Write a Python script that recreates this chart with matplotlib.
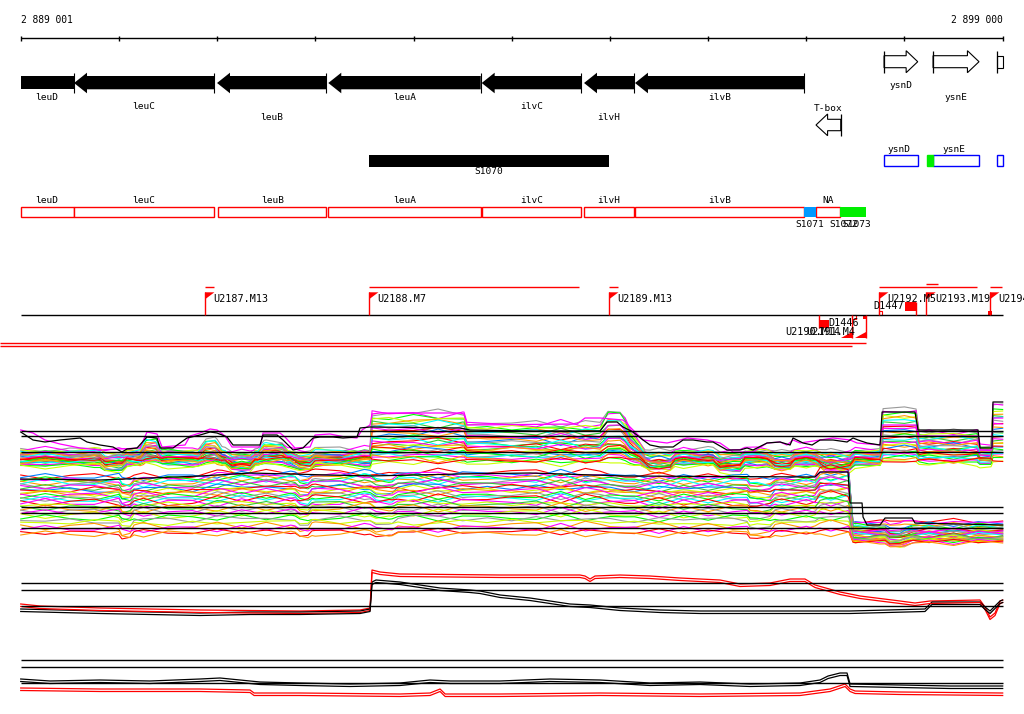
import numpy as np
import matplotlib.pyplot as plt
from matplotlib.patches import Polygon, Rectangle

plt.rcParams['font.family'] = ['DejaVu Sans Mono']

START = 2889001
END = 2899000

# ---- annotation data (positions = bp offset from START) ----
gene_names = ['leuD', 'leuC', 'leuB', 'leuA', 'ilvC', 'ilvH', 'ilvB']
gene_start = [0, 543, 1999, 3132, 4694, 5736, 6255]
gene_end = [540, 1971, 3112, 4684, 5705, 6245, 7976]

open_names = ['T-box', 'ysnD', 'ysnE', '']
open_start = [8098, 8791, 9290, 9939]
open_end = [8350, 9134, 9758, 9999]
open_strand = [-1, 1, 1, 1]

box_names = ['leuD', 'leuC', 'leuB', 'leuA', 'ilvC', 'ilvH', 'ilvB', 'NA']
box_start = [0, 543, 2012, 3132, 4694, 5736, 6255, 8098]
box_end = [540, 1971, 3112, 4684, 5705, 6245, 7976, 8343]

seg_names = ['S1071', 'S1072', 'S1073']
seg_start = [7976, 8343, 8420]
seg_end = [8098, 8420, 8605]
seg_colors = ['#0099ff', '#00ee00', '#00ee00']

blue_names = ['ysnD', 'ysnE', '']
blue_start = [8791, 9290, 9939]
blue_end = [9134, 9758, 9999]
green_seg = (9226, 9290)

s1070 = (3547, 5991)

flag_names = ['U2187.M13', 'U2188.M7', 'U2189.M13', 'U2192.M5', 'U2193.M19', 'U2194.M1']
flag_pos = [1877, 3547, 5991, 8740, 9222, 9870]
flag_line_end = [1965, 5688, 6086, 9734, 9338, 9996]

down_names = ['U2190.M14', 'U2191.M4']
down_start = [8350, 8498]
down_end = [8462, 8605]

# ---- shared small wiggles of the probe signal (px), every 250 bp ----
jit_a = [0, 2, -1, 1, 3, -2, 0, 2, -3, 1, -1, 2, 0, -2, 3, 1, -1, -3, 2, 0, 1,
         -2, 3, -1, 0, 2, -3, 1, -2, 0, 3, -1, 2, -2, 1, 0, -3, 2, -1, 1, 0]
jit_b = [1, -2, 0, 3, -1, 2, -3, 0, 1, -2, 2, -1, 3, 0, -2, 1, -3, 2, 0, -1, 2,
         1, -2, 3, -1, 0, 2, -2, 1, -3, 0, 2, -1, 3, -2, 1, -1, 0, 2, -2, 0]

# ---- track 1 (many conditions) ----
p1_sx = [0, 3557, 3577, 4514, 4544, 6154, 6357, 8750, 8781, 9117, 9147, 9738, 9768, 9880, 9900, 9999]
p1_sy = [0, 0, 1, 1, 0.72, 0.72, 0, 0, 1.1, 1.1, 0.5, 0.5, 0.1, 0.1, 1.25, 1.25]
p1_w1x = [0, 1215, 1276, 1377, 1439, 1805, 1887, 1978, 2050, 2416, 2477, 2661, 2722, 5899, 5980, 6102, 6204, 9999]
p1_w1y = [0, 0, 10, 10, 0, 0, 9, 9, 0, 0, 7, 7, 0, 0, 12, 12, 0, 0]
p1_w2x = [0, 807, 858, 1031, 1082, 2080, 2151, 2335, 2386, 2742, 2844, 2946, 2997, 6306, 6408, 6612, 6663,
          7050, 7121, 7324, 7375, 7599, 7681, 7834, 7885, 8088, 8200, 8445, 8496, 9999]
p1_w2y = [0, 0, -5, -5, 0, 0, -6, -6, 0, 0, -5, -5, 0, 0, -6, -6, 0,
          0, -7, -7, 0, 0, -5, -5, 0, 0, -6, -6, 0, 0]
p1_low = [449, 450, 452, 451, 453, 454, 452, 455, 456, 454, 457, 455, 458, 456, 459,
          457, 460, 458, 461, 459, 462, 460, 463, 461, 464, 462, 465, 463, 466, 459]
p1_step = [36, 36, 34, 32, 31, 30, 28, 27, 26, 24, 23, 22, 20, 19, 18,
           17, 16, 15, 14, 13, 12, 11, 10, 9, 8, 7, 6, 5, 4, -2]
p1_a1 = [1.0, 0.8, 1.2, 0.6, 0.9, 0.5, 1.0, 0.4, 0.7, 0.9, 0.3, 0.8, 0.5, 1.0, 0.2,
         0.6, 0.4, 0.7, 0.3, 0.8, 0.2, 0.5, 0.6, 0.4, 0.3, 0.5, 0.2, 0.4, 0.1, 0.2]
p1_a2 = [0.5, 0.3, 0.6, 0.8, 0.4, 1.0, 0.7, 0.5, 1.0, 0.8, 0.6, 0.9, 0.4, 1.0, 0.7,
         0.5, 1.0, 0.3, 0.8, 0.6, 1.0, 0.7, 0.9, 0.5, 1.0, 0.8, 0.6, 1.0, 0.9, 1.2]
p1_ja = [1, -1, 0.5, -0.5, 1, -1, 0.8, -0.8, 0.6, -0.6, 1, -1, 0.4, -0.4, 1,
         -1, 0.7, -0.7, 0.5, -0.5, 1, -1, 0.8, -0.8, 0.6, -0.6, 1, -1, 0.5, -0.5]
p1_jb = [-0.5, 0.8, 1, -1, 0.3, 0.6, -0.8, 1, -0.4, 0.7, -1, 0.2, 0.9, -0.6, -0.3,
         1, -0.9, 0.4, 0.6, -1, 0.8, -0.2, -0.7, 1, 0.3, -0.8, 0.5, 0.9, -1, 0.6]
p1_colors = ['#999999', '#ff00ff', '#00ff00', '#ccff00', '#ff9900', '#33cc33', '#00ffff', '#999999',
             '#ff0000', '#ff00ff', '#0080ff', '#ff9900', '#00ff00', '#999999', '#ff0000', '#00ffff',
             '#33cc33', '#ff00ff', '#ccff00', '#ff9900', '#0080ff', '#ff0000', '#999999', '#00ff00',
             '#ff00ff', '#00ffff', '#00ff00', '#ff9900', '#ccff00', '#ff0000']
p1_black_x = [0, 125, 247, 400, 604, 675, 807, 940, 1031, 1082, 1184, 1286, 1388, 1418, 1551, 1693, 1826,
              1928, 1999, 2101, 2162, 2263, 2437, 2467, 2610, 2671, 2773, 2874, 2977, 3048, 3180, 3282,
              3424, 3455, 3557, 4473, 4575, 5186, 5899, 5970, 6072, 6133, 6235, 6337, 6408, 6510, 6643,
              6744, 6846, 6988, 7050, 7192, 7324, 7396, 7457, 7599, 7732, 7834, 7864, 7966, 8058, 8139,
              8272, 8414, 8475, 8526, 8618, 8750, 8771, 9106, 9137, 9748, 9768, 9890, 9900, 9999]
p1_black_y = [432, 440, 442, 440, 438, 442, 445, 447, 452, 449, 448, 437, 438, 448, 448, 438, 435,
              432, 433, 437, 445, 445, 445, 435, 435, 440, 450, 448, 438, 437, 437, 438,
              437, 428, 427, 428, 430, 431, 431, 422, 422, 427, 432, 440, 445, 447, 447,
              440, 440, 442, 442, 450, 450, 448, 450, 443, 442, 445, 438, 443, 445, 440,
              440, 442, 438, 440, 443, 445, 412, 412, 430, 430, 448, 448, 402, 402]
p1_mag_x = [0, 125, 247, 400, 604, 807, 1215, 1286, 1388, 1439, 1673, 1724, 1826, 1928, 1999, 2080, 2151,
            2437, 2467, 2640, 2691, 2793, 2946, 2997, 3149, 3302, 3424, 3475, 3557, 3577, 3659, 4473,
            4514, 4544, 5665, 5746, 5899, 6133, 6235, 6337, 6581, 6714, 6785, 6988, 7121, 7253, 7457,
            7599, 7732, 7803, 7864, 7936, 8139, 8272, 8445, 8516, 8750, 8771, 9117, 9147, 9748, 9768,
            9890, 9900, 9999]
p1_mag_y = [430, 433, 440, 444, 448, 450, 448, 432, 434, 447, 445, 436, 433, 429, 430, 436, 447,
            447, 433, 433, 437, 448, 447, 435, 434, 437, 438, 430, 425, 414, 413, 413,
            414, 425, 424, 418, 418, 420, 430, 440, 443, 440, 438, 440, 443, 452, 452,
            443, 442, 445, 440, 443, 440, 438, 440, 443, 445, 425, 425, 436, 436, 450,
            450, 418, 418]

# ---- track 2 ----
p2_sx = [0, 8435, 8475, 9999]
p2_sy = [0, 0, 1, 1]
p2_w3x = [0, 1775, 2050, 5899, 6154, 8088, 8139, 8424, 8445, 9999]
p2_w3y = [0, 0, 4, 4, 0, 0, 7, 7, 0, 0]
p2_w4x = [0, 1000, 1031, 1113, 1154, 2793, 2844, 2925, 2966, 3557, 3618, 3781, 3842,
          7396, 7426, 7630, 7681, 8801, 8852, 8954, 9086, 9999]
p2_w4y = [0, 0, -6, -6, 0, 0, -5, -5, 0, 0, -4, -4, 0, 0, -5, -5, 0, 0, -5, -5, 0, 0]
p2_left = [476, 477, 479, 480, 482, 483, 485, 486, 488, 489, 491, 492, 494, 495, 497, 498,
           500, 502, 503, 505, 507, 509, 511, 513, 515, 518, 520, 523, 526, 529, 532, 534]
p2_right = [521, 524, 522, 526, 525, 528, 527, 530, 529, 531, 530, 532, 533, 531, 534, 533,
            535, 536, 534, 537, 536, 538, 537, 539, 538, 540, 539, 541, 540, 542, 541, 543]
p2_a3 = [1.0, 0.8, 1.0, 0.6, 0.9, 1.0, 0.7, 0.8, 1.0, 0.5, 0.9, 0.6, 0.8, 1.0, 0.4, 0.7,
         0.6, 0.9, 0.3, 0.5, 0.8, 0.4, 0.6, 0.3, 0.5, 0.2, 0.4, 0.3, 0.2, 0.3, 0.1, 0.2]
p2_a4 = [0.2, 0.5, 0.8, 1.0, 0.3, 0.6, 1.0, 0.4, 0.7, 1.2, 0.5, 0.8, 0.3, 1.0, 0.6, 0.9,
         1.2, 0.4, 0.7, 1.0, 0.5, 0.8, 1.1, 0.6, 0.9, 0.4, 1.0, 0.7, 1.2, 0.5, 0.8, 0.6]
p2_ja = [0.6, -1, 1.2, -0.4, 0.9, -1.2, 0.5, 1, -0.7, 1.3, -0.9, 0.4, -1.1, 0.8, -0.5, 1.2,
         -1, 0.7, -1.3, 0.6, 1.1, -0.8, 0.9, -1.2, 0.5, -0.6, 1.2, -0.9, 0.7, -1, 0.8, -0.5]
p2_jb = [-1, 0.7, 0.4, 1.2, -0.8, 0.9, -1.2, -0.5, 1, 0.6, -1.1, 1.3, 0.5, -0.9, 1.2, -0.4,
         0.8, -1.2, 0.9, 1, -0.6, 1.1, -0.9, 0.4, -1.2, 1, 0.6, -0.8, -1.1, 0.7, -0.4, 1]
p2_colors = ['#ff0000', '#0080ff', '#ff00ff', '#00ff00', '#ff9900', '#00ffff', '#999999', '#ff00ff',
             '#33cc33', '#0080ff', '#ff0000', '#ccff00', '#ff9900', '#ff00ff', '#00ff00', '#999999',
             '#00ffff', '#ff0000', '#ff00ff', '#ccff00', '#33cc33', '#ff9900', '#999999', '#ff00ff',
             '#ccff00', '#00ff00', '#999999', '#ccff00', '#ff9900', '#ff00ff', '#ff0000', '#ff9900']
p2_black_x = [0, 807, 1826, 2335, 3557, 4473, 5186, 6154, 8088, 8139, 8424, 8445, 8567, 8577, 8618,
              8750, 8801, 9076, 9106, 9999]
p2_black_y = [479, 480, 476, 473, 476, 474, 473, 476, 477, 472, 472, 503, 503, 517, 525,
              525, 518, 518, 523, 525]

# ---- tracks 3 and 4 (two conditions, two replicates) ----
p3_black_x = [0, 400, 807, 1316, 1826, 2335, 2844, 3455, 3557, 3577, 3618, 3862, 4066, 4270, 4575,
              4677, 4881, 5186, 5390, 5593, 5797, 6102, 6510, 6917, 7936, 8445, 9208, 9279, 9768,
              9819, 9870, 9921, 9972, 9999]
p3_black_y = [609, 610, 611, 612, 613, 612, 612, 611, 609, 582, 580, 582, 585, 588, 590,
              591, 595, 598, 601, 604, 605, 608, 610, 611, 611, 611, 609, 602, 602,
              607, 611, 606, 601, 600]
p3_red_x = [0, 197, 807, 1826, 2844, 3455, 3557, 3577, 3659, 3862, 4881, 5695, 5746, 5797, 5848,
            6102, 6408, 6714, 7121, 7324, 7630, 7834, 7986, 8088, 8343, 8547, 8954, 9106, 9259,
            9768, 9819, 9870, 9921, 9972, 9999]
p3_red_y = [604, 606, 608, 610, 611, 610, 608, 570, 572, 574, 575, 575, 576, 579, 576,
            575, 576, 578, 580, 584, 583, 579, 579, 585, 592, 596, 601, 603, 601,
            600, 607, 617, 613, 601, 600]
p4_black_x = [0, 298, 807, 1316, 1826, 2029, 2233, 2437, 2844, 3353, 3862, 4168, 4373, 4881, 5390,
              5899, 6408, 6917, 7426, 7936, 8139, 8221, 8343, 8414, 8445, 8954, 9463, 9999]
p4_black_y = [679, 681, 680, 681, 679, 678, 680, 682, 683, 684, 683, 680, 681, 681, 679,
              680, 683, 682, 684, 683, 680, 676, 673, 673, 684, 685, 686, 686]
p4_red_x = [0, 807, 1826, 2335, 2376, 2844, 3862, 4168, 4270, 4322, 4881, 5899, 6917, 7936,
            8241, 8394, 8445, 8496, 8954, 9999]
p4_red_y = [688, 689, 689, 690, 693, 693, 694, 693, 689, 694, 694, 693, 694, 693,
            689, 684, 689, 691, 692, 693]
rep_shift = [0, 2.5]

ref_lines = [430.5, 436, 451.5, 507, 513, 528, 583, 590, 606, 660, 667, 683]

# ---- figure ----
fig = plt.figure(figsize=(10.24, 7.14), dpi=100)
ax = fig.add_axes([0, 0, 1, 1])
ax.set_xlim(-211, 10216)
ax.set_ylim(714, 0)
ax.axis('off')

# scale bar
ax.hlines(37.7, 0, 9999, color='black', lw=1)
ax.vlines(np.linspace(0, 9999, 11), 35.5, 40.5, color='black', lw=1)
ax.text(0, 20, f"{START:,}".replace(',', ' '), fontsize=6.9, ha='left', va='center')
ax.text(9999, 20, f"{END:,}".replace(',', ' '), fontsize=6.9, ha='right', va='center')

# black genes (minus strand)
HEAD = 132
label_rows = [97, 106.5, 117]
for i, (n, s, e) in enumerate(zip(gene_names, gene_start, gene_end)):
    if s <= 0:
        ax.add_patch(Rectangle((s, 76), e - s, 13.3, color='black', lw=0))
    else:
        pts = [(s, 83), (s + HEAD, 72.7), (s + HEAD, 76), (e, 76), (e, 89.3),
               (s + HEAD, 89.3), (s + HEAD, 93.3)]
        ax.add_patch(Polygon(pts, closed=True, color='black', lw=0))
    ax.vlines(e, 72.7, 93.3, color='black', lw=0.8)
    ax.text((s + e) / 2, label_rows[i % 3], n, fontsize=6.8, ha='center', va='center')

# open arrows
OH = 118
for n, s, e, st in zip(open_names, open_start, open_end, open_strand):
    if st < 0:
        yc, bt, bb, ht, hb = 125, 119.3, 130.7, 114, 135.7
        pts = [(s, yc), (s + OH, ht), (s + OH, bt), (e, bt), (e, bb), (s + OH, bb), (s + OH, hb)]
        ax.vlines(e, ht, hb, color='black', lw=0.9)
        ax.text((s + e) / 2, 108.3, n, fontsize=6.8, ha='center', va='center')
    else:
        yc, bt, bb, ht, hb = 61.7, 55.7, 67.7, 50.7, 72.7
        if e - s > 2 * OH:
            pts = [(s, bt), (e - OH, bt), (e - OH, ht), (e, yc), (e - OH, hb), (e - OH, bb), (s, bb)]
        else:
            pts = [(s, bt), (e, bt), (e, bb), (s, bb)]
        ax.vlines(s, ht, hb, color='black', lw=0.9)
        ax.text((s + e) / 2, 85 if n == 'ysnD' else 97.5, n, fontsize=6.8, ha='center', va='center')
    ax.add_patch(Polygon(pts, closed=True, facecolor='white', edgecolor='black', lw=0.8))

# S1070
ax.add_patch(Rectangle((s1070[0], 155), s1070[1] - s1070[0], 11.7, color='black', lw=0))
ax.text(sum(s1070) / 2, 172, 'S1070', fontsize=6.8, ha='center', va='center')

# blue boxes
for n, s, e in zip(blue_names, blue_start, blue_end):
    ax.add_patch(Rectangle((s, 155.3), e - s, 10.7, facecolor='white', edgecolor='#0000ff', lw=1))
    if n:
        ax.text((s + e) / 2 - 20, 149, n, fontsize=6.8, ha='center', va='center')
ax.add_patch(Rectangle((green_seg[0], 155.3), green_seg[1] - green_seg[0], 10.7,
                       facecolor='#00ee00', edgecolor='#00ee00', lw=1))

# red boxes
for n, s, e in zip(box_names, box_start, box_end):
    ax.add_patch(Rectangle((s, 207.3), e - s, 10, facecolor='white', edgecolor='red', lw=1))
    ax.text((s + e) / 2, 200.5, n, fontsize=6.8, ha='center', va='center')
for n, s, e, c in zip(seg_names, seg_start, seg_end, seg_colors):
    ax.add_patch(Rectangle((s, 207.3), e - s, 10, color=c, lw=0))
    ax.text((s + e) / 2, 224.5, n, fontsize=6.8, ha='center', va='center')

# flags row
ax.hlines(315.3, 0, 9999, color='black', lw=1)
FW = 95
for i, (n, p, le) in enumerate(zip(flag_names, flag_pos, flag_line_end)):
    ax.vlines(p, 292.3, 315.3, color='red', lw=1)
    ax.add_patch(Polygon([(p, 292.3), (p + FW, 292.3), (p, 299.3)], closed=True, color='red', lw=0))
    ax.hlines(284 if n == 'U2193.M19' else 287, p, le, color='red', lw=1)
    ax.text(p + 88, 298.5, n, fontsize=7.3, ha='left', va='center', clip_on=False)
ax.add_patch(Rectangle((8740, 310.7), 30, 4.6, facecolor='white', edgecolor='red', lw=0.8))
ax.add_patch(Rectangle((9850, 310.7), 40, 4.6, color='red', lw=0))
# D1447
ax.add_patch(Rectangle((9005, 302), 109, 9, color='red', lw=0))
ax.vlines(9114, 302, 315.3, color='red', lw=1)
ax.text(8682, 306, 'D1447', fontsize=7.3, ha='left', va='center')
# D1446
ax.add_patch(Rectangle((8132, 320.3), 102, 8, color='red', lw=0))
ax.vlines(8132, 315.3, 328.3, color='red', lw=1)
ax.text(8224, 323.3, 'D1446', fontsize=7.3, ha='left', va='center')
for n, s, e in zip(down_names, down_start, down_end):
    ax.add_patch(Polygon([(e, 331.7), (e, 338.3), (s, 338.3)], closed=True, color='red', lw=0))
    ax.vlines(e, 315.3, 338.3, color='red', lw=1)
    ax.text(s, 332.3, n, fontsize=7.3, ha='right', va='center')
ax.add_patch(Rectangle((8465, 315.3), 40, 4, facecolor='white', edgecolor='red', lw=0.8))
ax.add_patch(Rectangle((8575, 315.3), 40, 4, color='red', lw=0))
ax.hlines(343, -211, down_end[1], color='red', lw=1)
ax.hlines(346, -211, down_end[0], color='red', lw=1)

# jitter grid
jx = np.linspace(0, 9999, len(jit_a))

# track 1
x1 = np.union1d(np.union1d(np.union1d(p1_sx, p1_w1x), p1_w2x), jx)
s1 = np.interp(x1, p1_sx, p1_sy)
w1 = np.interp(x1, p1_w1x, p1_w1y)
w2 = np.interp(x1, p1_w2x, p1_w2y)
ja = np.interp(x1, jx, jit_a)
jb = np.interp(x1, jx, jit_b)
for lo, st, a1, a2, ca, cb, c in zip(p1_low, p1_step, p1_a1, p1_a2, p1_ja, p1_jb, p1_colors):
    ax.plot(x1, lo - st * s1 - a1 * w1 - a2 * w2 + ca * ja + cb * jb, color=c, lw=0.8)
ax.plot(p1_mag_x, p1_mag_y, color='#ff00ff', lw=0.9)
ax.plot(p1_black_x, p1_black_y, color='black', lw=0.9)

# track 2
x2 = np.union1d(np.union1d(np.union1d(p2_sx, p2_w3x), p2_w4x), jx)
s2 = np.interp(x2, p2_sx, p2_sy)
w3 = np.interp(x2, p2_w3x, p2_w3y)
w4 = np.interp(x2, p2_w4x, p2_w4y)
ja2 = np.interp(x2, jx, jit_a)
jb2 = np.interp(x2, jx, jit_b)
for le, ri, a3, a4, ca, cb, c in zip(p2_left, p2_right, p2_a3, p2_a4, p2_ja, p2_jb, p2_colors):
    ax.plot(x2, le * (1 - s2) + ri * s2 - a3 * w3 - a4 * w4 + ca * ja2 + cb * jb2, color=c, lw=0.8)
ax.plot(p2_black_x, p2_black_y, color='black', lw=0.9)

# tracks 3 and 4
for d in rep_shift:
    ax.plot(p3_red_x, np.array(p3_red_y) + d, color='red', lw=0.9)
    ax.plot(p3_black_x, np.array(p3_black_y) + d, color='black', lw=0.9)
    ax.plot(p4_red_x, np.array(p4_red_y) + d, color='red', lw=0.9)
    ax.plot(p4_black_x, np.array(p4_black_y) + d, color='black', lw=0.9)

ax.hlines(ref_lines, 0, 9999, color='black', lw=1, zorder=3)

fig.savefig('out.png', dpi=100)
